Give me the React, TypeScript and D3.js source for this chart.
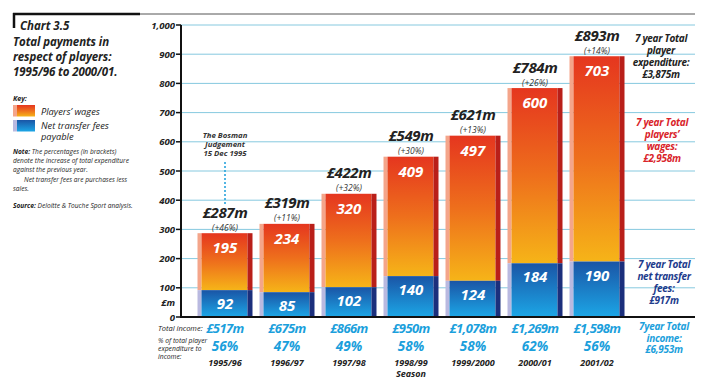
import * as d3 from 'd3';

// Chart values
const years = ['1995/96', '1996/97', '1997/98', '1998/99', '1999/2000', '2000/01', '2001/02'];
const wages = [195, 234, 320, 409, 497, 600, 703];
const transfers = [92, 85, 102, 140, 124, 184, 190];
const growth = ['(+46%)', '(+11%)', '(+32%)', '(+30%)', '(+13%)', '(+26%)', '(+14%)'];
const income = ['£517m', '£675m', '£866m', '£950m', '£1,078m', '£1,269m', '£1,598m'];
const ratio = ['56%', '47%', '49%', '58%', '58%', '62%', '56%'];
const yTicks = [0, 100, 200, 300, 400, 500, 600, 700, 800, 900, 1000];

const W = 720;
const H = 385;
const font = '"Open Sans", "DejaVu Sans", sans-serif';
const dark = '#222';
const cyan = '#1b9fdc';

const x = d3.scaleBand<string>().domain(years).range([191.3, 630.7]).paddingInner(0.113).paddingOuter(0.1);
const y = d3.scaleLinear().domain([0, 1000]).range([317, 25]);

const fmt = d3.format(',');

const styles = {
  bi: { fontFamily: font, fontStyle: 'italic', fontWeight: 700 } as const,
  it: { fontFamily: font, fontStyle: 'italic', fontWeight: 400 } as const,
};

const Lines = ({ lines, x0, y0, dy, size, fill, anchor = 'middle', weight = 700, ls = 0 }: any) => (
  <text x={x0} y={y0} fill={fill} fontSize={size} textAnchor={anchor} letterSpacing={ls}
    style={{ fontFamily: font, fontStyle: 'italic', fontWeight: weight }}>
    {lines.map((l: string, i: number) => (
      <tspan key={i} x={x0} dy={i === 0 ? 0 : dy}>{l}</tspan>
    ))}
  </text>
);

const App = () => {
  const bw = x.bandwidth();
  const side = 4;
  const edge = 5;
  return (
    <svg width={W} height={H} style={{ position: 'absolute', left: 0, top: 0, background: 'white' }}>
      <defs>
        <linearGradient id="og" x1="0" y1="0" x2="0" y2="1">
          <stop offset="0" stopColor="#e5361f" />
          <stop offset="0.5" stopColor="#ee6f1c" />
          <stop offset="1" stopColor="#f6b418" />
        </linearGradient>
        <linearGradient id="bg" x1="0" y1="0" x2="0" y2="1">
          <stop offset="0" stopColor="#1a55a6" />
          <stop offset="1" stopColor="#1ca6e6" />
        </linearGradient>
      </defs>

      {/* frame line at top */}
      <line x1={13} x2={695} y1={14} y2={14} stroke="#555" strokeWidth={1} />
      <line x1={13} x2={140} y1={14} y2={14} stroke="#111" strokeWidth={2.5} />
      <line x1={14} x2={14} y1={13} y2={28} stroke="#111" strokeWidth={2.5} />

      {/* left panel */}
      <text x={20} y={30} fontSize={11.5} fill={dark} style={styles.bi}>Chart 3.5</text>
      <Lines lines={['Total payments in', 'respect of players:', '1995/96 to 2000/01.']}
        x0={13} y0={45.5} dy={15} size={11.5} fill={dark} anchor="start" ls={-0.1} />
      <text x={13} y={101} fontSize={7} fill={dark} style={styles.bi}>Key:</text>
      {[0, 1].map((i) => (
        <g key={i} transform={`translate(13,${i === 0 ? 105 : 120})`}>
          <rect x={0} y={0} width={4} height={11.5} fill={i === 0 ? '#f4a58a' : '#b9b9e0'} />
          <rect x={4} y={0} width={18} height={11.5} fill={i === 0 ? 'url(#og)' : 'url(#bg)'} />
        </g>
      ))}
      <text x={41} y={115} fontSize={9.3} fill={dark} style={styles.it}>Players’ wages</text>
      <Lines lines={['Net transfer fees', 'payable']} x0={41} y0={129} dy={11} size={9.3} fill={dark} anchor="start" weight={400} />
      <text x={13} y={154} fontSize={6.6} fill={dark} style={styles.it}>
        <tspan x={13} style={{ fontWeight: 700 }}>Note:</tspan>
        <tspan> The percentages (in brackets)</tspan>
        <tspan x={13} dy={9.2}>denote the increase of total expenditure</tspan>
        <tspan x={13} dy={9.2}>against the previous year.</tspan>
        <tspan x={24} dy={9.2}>Net transfer fees are purchases less</tspan>
        <tspan x={13} dy={9.2}>sales.</tspan>
      </text>
      <text x={13} y={208} fontSize={6.6} fill={dark} style={styles.it}>
        <tspan style={{ fontWeight: 700 }}>Source:</tspan> Deloitte &amp; Touche Sport analysis.
      </text>

      {/* gridlines */}
      {yTicks.filter((t) => t > 0).map((t) => (
        <line key={t} x1={181} x2={695} y1={y(t)} y2={y(t)} stroke="#86c9df" strokeWidth={1} />
      ))}

      {/* bars */}
      {years.map((yr, i) => {
        const x0 = x(yr) as number;
        const total = wages[i] + transfers[i];
        const yT = y(total);
        const yB = y(transfers[i]);
        const y0 = y(0);
        const cx = x0 + bw / 2;
        return (
          <g key={yr}>
            <rect x={x0} y={yT} width={side} height={yB - yT} fill="#f4a58a" />
            <rect x={x0 + side} y={yT} width={bw - side - edge} height={yB - yT} fill="url(#og)" />
            <rect x={x0 + bw - edge} y={yT} width={edge} height={yB - yT} fill="#b91f19" />
            <rect x={x0} y={yB} width={side} height={y0 - yB} fill="#b9b9e0" />
            <rect x={x0 + side} y={yB} width={bw - side - edge} height={y0 - yB} fill="url(#bg)" />
            <rect x={x0 + bw - edge} y={yB} width={edge} height={y0 - yB} fill="#1b2f7c" />
            <text x={cx} y={yT + 20} textAnchor="middle" fontSize={15} fill="white" style={styles.bi}>{wages[i]}</text>
            <text x={cx} y={yB + 19} textAnchor="middle" fontSize={15} fill="white" style={styles.bi}>{transfers[i]}</text>
            <text x={cx} y={yT - 15.5} textAnchor="middle" fontSize={15} fill={dark} letterSpacing={-0.4} style={styles.bi}>£{total}m</text>
            <text x={cx} y={yT - 2.5} textAnchor="middle" fontSize={8.5} fill="#333" style={styles.it}>{growth[i]}</text>
            <text x={cx} y={333} textAnchor="middle" fontSize={13} fill={cyan} letterSpacing={-0.6} style={styles.bi}>{income[i]}</text>
            <text x={cx} y={351} textAnchor="middle" fontSize={13.5} fill={cyan} style={styles.bi}>{ratio[i]}</text>
            <text x={cx} y={366} textAnchor="middle" fontSize={9} fill={dark} style={styles.bi}>{yr}</text>
          </g>
        );
      })}
      <text x={x('1998/99')! + bw / 2} y={377} textAnchor="middle" fontSize={9} fill={dark} style={styles.bi}>Season</text>

      {/* y axis */}
      <line x1={181} x2={181} y1={y(1000)} y2={y(0)} stroke="#111" strokeWidth={2} />
      <line x1={180} x2={695} y1={y(0)} y2={y(0)} stroke="#111" strokeWidth={2} />
      {yTicks.map((t) => (
        <g key={t}>
          <line x1={176} x2={181} y1={y(t)} y2={y(t)} stroke="#111" strokeWidth={1.5} />
          <text x={175} y={y(t) + 3.5} textAnchor="end" fontSize={9.5} fill={dark} style={styles.bi}>{fmt(t)}</text>
        </g>
      ))}
      <text x={175} y={306} textAnchor="end" fontSize={9.5} fill={dark} style={styles.bi}>£m</text>

      {/* Bosman annotation */}
      <Lines lines={['The Bosman', 'Judgement', '15 Dec 1995']} x0={225} y0={138} dy={8.8} size={7.8} fill="#333" />
      <line x1={225} x2={225} y1={162} y2={205} stroke="#29a3dc" strokeWidth={1.6} strokeDasharray="2,2" />

      {/* right side totals */}
      <Lines lines={['7 year Total', 'player', 'expenditure:', '£3,875m']} x0={661} y0={42} dy={12} size={10} fill={dark} ls={-0.3} />
      <Lines lines={['7 year Total', 'players’', 'wages:', '£2,958m']} x0={662} y0={126} dy={12} size={10} fill="#d9242b" ls={-0.3} />
      <Lines lines={['7 year Total', 'net transfer', 'fees:', '£917m']} x0={664} y0={268} dy={12} size={10} fill="#1d3b8c" ls={-0.3} />
      <Lines lines={['7year Total', 'income:', '£6,953m']} x0={664} y0={330} dy={11.5} size={10} fill={cyan} ls={-0.3} />

      {/* bottom row labels */}
      <text x={158} y={331} fontSize={7.5} fill={dark} style={styles.it}>Total income:</text>
      <Lines lines={['% of total player', 'expenditure to', 'income:']} x0={158} y0={343} dy={8} size={6.8} fill={dark} anchor="start" weight={400} />
    </svg>
  );
};

export default App;
